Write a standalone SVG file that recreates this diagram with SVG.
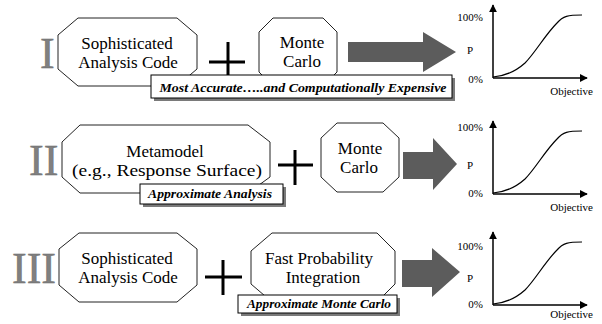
<svg xmlns="http://www.w3.org/2000/svg" width="602" height="324" viewBox="0 0 602 324">
  <style>
    .box { fill: #ffffff; stroke: #222222; stroke-width: 1; }
    .txt { font-family: "Liberation Serif", "Times New Roman", Times, "DejaVu Serif", serif; font-size: 17px; fill: #000000; text-anchor: middle; }
    .num { font-family: "Liberation Serif", "Times New Roman", Times, "DejaVu Serif", serif; font-size: 44px; fill: #808080; stroke: #6a6a6a; stroke-width: 0.5; }
    .plus { stroke: #000000; stroke-width: 3; fill: none; }
    .arrow { fill: #5c5c5c; }
    .tag { fill: #ffffff; stroke: #000000; stroke-width: 1; }
    .tagshadow { fill: #7a7a7a; }
    .tagtxt { font-family: "Liberation Serif", "Times New Roman", Times, "DejaVu Serif", serif; font-size: 13px; font-weight: bold; font-style: italic; fill: #000000; text-anchor: middle; }
    .axis { stroke: #000000; stroke-width: 1.5; fill: none; }
    .curve { stroke: #000000; stroke-width: 1.2; fill: none; }
    .lbl { font-family: "Liberation Serif", "Times New Roman", Times, "DejaVu Serif", serif; font-size: 11px; fill: #000000; }
  </style>
  <defs>
    <marker id="ah" viewBox="0 0 10 10" refX="9" refY="5" markerWidth="8" markerHeight="8" markerUnits="userSpaceOnUse" orient="auto">
      <path d="M0,0 L10,5 L0,10 z" fill="#000000"/>
    </marker>
    <!-- cumulative distribution chart, origin at (493,78) -->
    <g id="cdf">
      <line class="axis" x1="493" y1="78" x2="493" y2="5" marker-end="url(#ah)"/>
      <line class="axis" x1="493" y1="78" x2="587" y2="78" marker-end="url(#ah)"/>
      <path class="curve" d="M493,77 C505,76 515,72 525,63 C535,53 545,35 557,23 C563,16 568,15 582,15"/>
    </g>
  </defs>

  <!-- Row I -->
  <g id="row1-label"><text class="num" x="40" y="68">I</text></g>
  <g id="row1-code">
    <polygon class="box" points="78,18 177,18 197,35 197,69 177,86 78,86 58,69 58,35"/>
    <text class="txt" x="127" y="49">Sophisticated</text>
    <text class="txt" x="128" y="68">Analysis Code</text>
  </g>
  <g id="row1-plus">
    <line class="plus" x1="209" y1="62" x2="245" y2="62"/>
    <line class="plus" x1="228" y1="42" x2="228" y2="80"/>
  </g>
  <g id="row1-mc">
    <polygon class="box" points="273,18 323,18 337,32 337,72 323,86 273,86 259,72 259,32"/>
    <text class="txt" x="302" y="48">Monte</text>
    <text class="txt" x="302" y="67">Carlo</text>
  </g>
  <g id="row1-tag">
    <rect class="tagshadow" x="154" y="78" width="301" height="23"/>
    <rect class="tag" x="151" y="75" width="301" height="23"/>
    <text class="tagtxt" x="303" y="92" textLength="287" lengthAdjust="spacingAndGlyphs">Most Accurate…..and Computationally Expensive</text>
  </g>
  <g id="row1-arrow"><polygon class="arrow" points="348,42 423,42 423,32 456,52 423,72 423,62 348,62"/></g>
  <g id="row1-chart">
    <use href="#cdf"/>
    <text class="lbl" x="483" y="21" text-anchor="end">100%</text>
    <text class="lbl" x="467" y="54">P</text>
    <text class="lbl" x="483" y="83" text-anchor="end">0%</text>
    <text class="lbl" x="593" y="95" text-anchor="end">Objective</text>
  </g>

  <!-- Row II -->
  <g id="row2-label"><text class="num" x="29" y="175">II</text></g>
  <g id="row2-meta">
    <polygon class="box" points="80,125 248,125 270,142 270,177 248,193 80,193 62,177 62,142"/>
    <text class="txt" x="165" y="157">Metamodel</text>
    <text class="txt" x="167" y="176" textLength="190" lengthAdjust="spacingAndGlyphs">(e.g., Response Surface)</text>
  </g>
  <g id="row2-plus">
    <line class="plus" x1="278" y1="165" x2="313" y2="165"/>
    <line class="plus" x1="295" y1="150" x2="295" y2="185"/>
  </g>
  <g id="row2-mc">
    <polygon class="box" points="337,123 383,123 399,138 399,177 383,192 337,192 321,177 321,138"/>
    <text class="txt" x="360" y="154">Monte</text>
    <text class="txt" x="359" y="173">Carlo</text>
  </g>
  <g id="row2-tag">
    <rect class="tagshadow" x="143" y="187" width="143" height="20"/>
    <rect class="tag" x="140" y="184" width="143" height="20"/>
    <text class="tagtxt" x="210" y="198" textLength="124" lengthAdjust="spacingAndGlyphs">Approximate Analysis</text>
  </g>
  <g id="row2-arrow"><polygon class="arrow" points="403,152 433,152 433,138 457,164 433,190 433,179 403,179"/></g>
  <g id="row2-chart">
    <use href="#cdf" transform="translate(0,116)"/>
    <text class="lbl" x="483" y="131" text-anchor="end">100%</text>
    <text class="lbl" x="467" y="169">P</text>
    <text class="lbl" x="483" y="197" text-anchor="end">0%</text>
    <text class="lbl" x="593" y="211" text-anchor="end">Objective</text>
  </g>

  <!-- Row III -->
  <g id="row3-label"><text class="num" x="12" y="283">III</text></g>
  <g id="row3-code">
    <polygon class="box" points="79,233 177,233 197,249 197,285 177,302 79,302 59,285 59,249"/>
    <text class="txt" x="127" y="264">Sophisticated</text>
    <text class="txt" x="128" y="283">Analysis Code</text>
  </g>
  <g id="row3-plus">
    <line class="plus" x1="205" y1="277" x2="242" y2="277"/>
    <line class="plus" x1="223" y1="260" x2="223" y2="295"/>
  </g>
  <g id="row3-fpi">
    <polygon class="box" points="272,233 377,233 395,251 395,284 377,302 272,302 251,284 251,251"/>
    <text class="txt" x="319" y="264">Fast Probability</text>
    <text class="txt" x="323" y="283">Integration</text>
  </g>
  <g id="row3-tag">
    <rect class="tagshadow" x="241" y="298" width="159" height="18"/>
    <rect class="tag" x="238" y="295" width="159" height="18"/>
    <text class="tagtxt" x="319" y="308" textLength="144" lengthAdjust="spacingAndGlyphs">Approximate Monte Carlo</text>
  </g>
  <g id="row3-arrow"><polygon class="arrow" points="402,260 432,260 432,248 460,272 432,297 432,287 402,287"/></g>
  <g id="row3-chart">
    <use href="#cdf" transform="translate(0,227)"/>
    <text class="lbl" x="483" y="250" text-anchor="end">100%</text>
    <text class="lbl" x="467" y="282">P</text>
    <text class="lbl" x="483" y="308" text-anchor="end">0%</text>
    <text class="lbl" x="593" y="318" text-anchor="end">Objective</text>
  </g>
</svg>
